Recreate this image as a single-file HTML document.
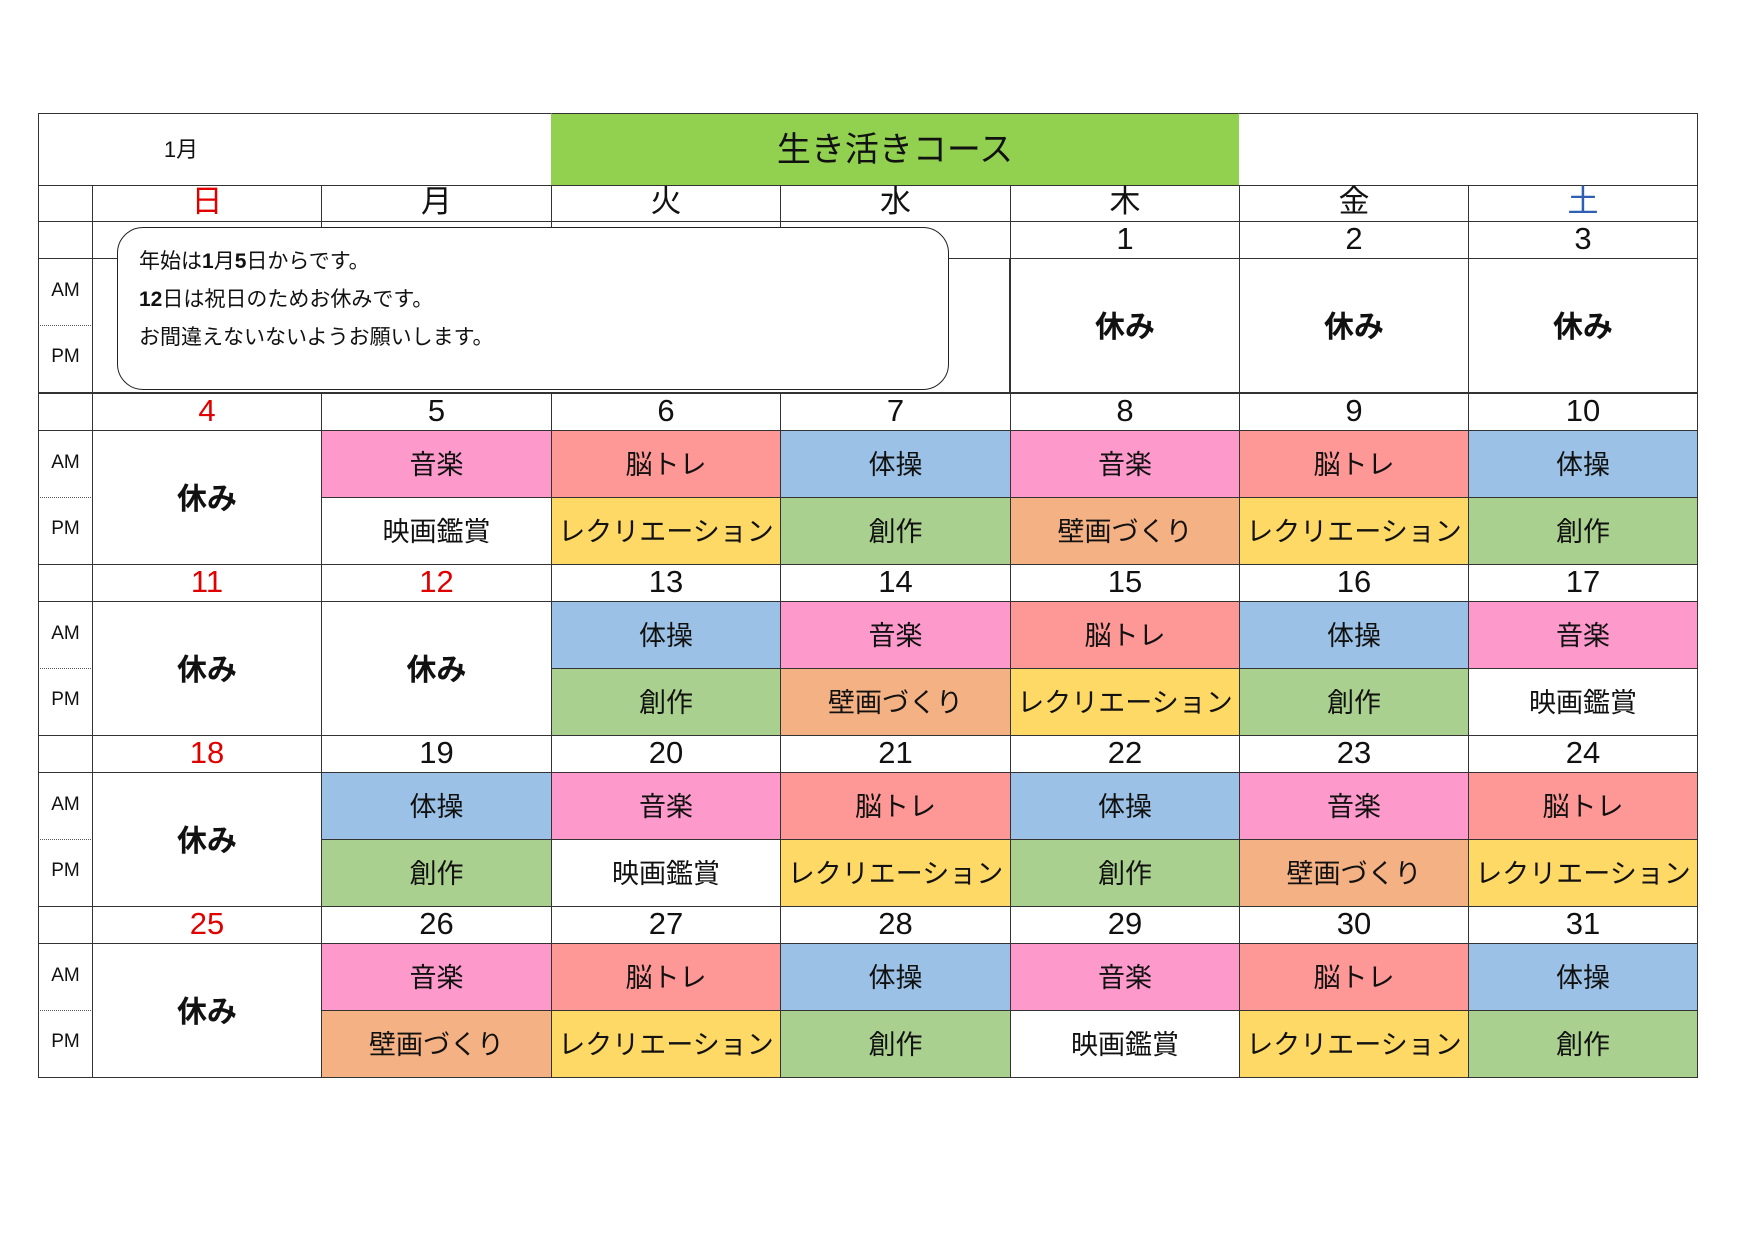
<!DOCTYPE html>
<html><head><meta charset="utf-8">
<style>
body{margin:0;background:#fff;}
#p{position:relative;width:1754px;height:1240px;overflow:hidden;font-family:"Liberation Sans","Noto Sans CJK JP",sans-serif;color:#111;}
.c{position:absolute;display:flex;align-items:center;justify-content:center;box-sizing:border-box;border:1.5px solid #333;white-space:nowrap;padding-bottom:4px;}
.d{font-size:31px;line-height:1;}
.a{font-size:27px;}
.r{color:#e00000;}
.k{font-weight:bold;font-size:30px;}
.l{font-size:19px;}
.pk{background:#fd99cb}.sa{background:#fe9896}.bl{background:#9bc2e6}.gr{background:#a9d08e}.ye{background:#ffd966}.or{background:#f4b183}
</style></head><body><div id="p">
<!-- header -->
<div class="c" style="left:38px;top:113px;width:1660px;height:73px;"></div>
<div style="position:absolute;left:150px;top:132px;width:62px;font-size:22px;text-align:center;">1月</div>
<div class="c" style="left:551px;top:113px;width:688px;height:73px;background:#92d050;font-size:34px;padding-bottom:6px;border-color:#92d050;border-top-color:#333;border-bottom-color:#333">生き活きコース</div>
<!-- day headers -->
<div class="c" style="left:38px;top:185px;width:55px;height:37px"></div>
<div class="c d r" style="left:92px;top:185px;width:230px;height:37px">日</div>
<div class="c d" style="left:321px;top:185px;width:231px;height:37px">月</div>
<div class="c d" style="left:551px;top:185px;width:230px;height:37px">火</div>
<div class="c d" style="left:780px;top:185px;width:231px;height:37px">水</div>
<div class="c d" style="left:1010px;top:185px;width:230px;height:37px">木</div>
<div class="c d" style="left:1239px;top:185px;width:230px;height:37px">金</div>
<div class="c d" style="left:1468px;top:185px;width:230px;height:37px;color:#2f5fb3">土</div>
<!-- week1 -->
<div class="c" style="left:38px;top:221px;width:55px;height:38px"></div>
<div class="c" style="left:92px;top:221px;width:230px;height:38px"></div>
<div class="c" style="left:321px;top:221px;width:231px;height:38px"></div>
<div class="c" style="left:551px;top:221px;width:230px;height:38px"></div>
<div class="c" style="left:780px;top:221px;width:231px;height:38px"></div>
<div class="c d" style="left:1010px;top:221px;width:230px;height:38px">1</div>
<div class="c d" style="left:1239px;top:221px;width:230px;height:38px">2</div>
<div class="c d" style="left:1468px;top:221px;width:230px;height:38px">3</div>
<div class="c l" style="left:38px;top:258px;width:55px;height:68px;border-bottom:none">AM</div>
<div class="c l" style="left:38px;top:325px;width:55px;height:68px;border-top:1.5px dotted #555">PM</div>
<div class="c" style="left:92px;top:258px;width:918px;height:135px"></div>
<div class="c k" style="left:1010px;top:258px;width:230px;height:135px">休み</div>
<div class="c k" style="left:1239px;top:258px;width:230px;height:135px">休み</div>
<div class="c k" style="left:1468px;top:258px;width:230px;height:135px">休み</div>
<div style="position:absolute;left:117px;top:227px;width:832px;height:163px;box-sizing:border-box;border:1.5px solid #222;border-radius:26px;background:#fff;padding:15px 0 0 21px;font-size:21px;line-height:38px;">年始は<b>1</b>月<b>5</b>日からです。<br><b>12</b>日は祝日のためお休みです。<br>お間違えないないようお願いします。</div>

<!-- week2 -->
<div class="c" style="left:38px;top:393px;width:55px;height:38px"></div>
<div class="c l" style="left:38px;top:430px;width:55px;height:68px;border-bottom:none">AM</div>
<div class="c l" style="left:38px;top:497px;width:55px;height:68px;border-top:1.5px dotted #555">PM</div>
<div class="c d r" style="left:92px;top:393px;width:230px;height:38px">4</div>
<div class="c d" style="left:321px;top:393px;width:231px;height:38px">5</div>
<div class="c d" style="left:551px;top:393px;width:230px;height:38px">6</div>
<div class="c d" style="left:780px;top:393px;width:231px;height:38px">7</div>
<div class="c d" style="left:1010px;top:393px;width:230px;height:38px">8</div>
<div class="c d" style="left:1239px;top:393px;width:230px;height:38px">9</div>
<div class="c d" style="left:1468px;top:393px;width:230px;height:38px">10</div>
<div class="c k" style="left:92px;top:430px;width:230px;height:135px">休み</div>
<div class="c a pk" style="left:321px;top:430px;width:231px;height:68px">音楽</div>
<div class="c a" style="left:321px;top:497px;width:231px;height:68px">映画鑑賞</div>
<div class="c a sa" style="left:551px;top:430px;width:230px;height:68px">脳トレ</div>
<div class="c a ye" style="left:551px;top:497px;width:230px;height:68px">レクリエーション</div>
<div class="c a bl" style="left:780px;top:430px;width:231px;height:68px">体操</div>
<div class="c a gr" style="left:780px;top:497px;width:231px;height:68px">創作</div>
<div class="c a pk" style="left:1010px;top:430px;width:230px;height:68px">音楽</div>
<div class="c a or" style="left:1010px;top:497px;width:230px;height:68px">壁画づくり</div>
<div class="c a sa" style="left:1239px;top:430px;width:230px;height:68px">脳トレ</div>
<div class="c a ye" style="left:1239px;top:497px;width:230px;height:68px">レクリエーション</div>
<div class="c a bl" style="left:1468px;top:430px;width:230px;height:68px">体操</div>
<div class="c a gr" style="left:1468px;top:497px;width:230px;height:68px">創作</div>

<!-- week3 -->
<div class="c" style="left:38px;top:564px;width:55px;height:38px"></div>
<div class="c l" style="left:38px;top:601px;width:55px;height:68px;border-bottom:none">AM</div>
<div class="c l" style="left:38px;top:668px;width:55px;height:68px;border-top:1.5px dotted #555">PM</div>
<div class="c d r" style="left:92px;top:564px;width:230px;height:38px">11</div>
<div class="c d r" style="left:321px;top:564px;width:231px;height:38px">12</div>
<div class="c d" style="left:551px;top:564px;width:230px;height:38px">13</div>
<div class="c d" style="left:780px;top:564px;width:231px;height:38px">14</div>
<div class="c d" style="left:1010px;top:564px;width:230px;height:38px">15</div>
<div class="c d" style="left:1239px;top:564px;width:230px;height:38px">16</div>
<div class="c d" style="left:1468px;top:564px;width:230px;height:38px">17</div>
<div class="c k" style="left:92px;top:601px;width:230px;height:135px">休み</div>
<div class="c k" style="left:321px;top:601px;width:231px;height:135px">休み</div>
<div class="c a bl" style="left:551px;top:601px;width:230px;height:68px">体操</div>
<div class="c a gr" style="left:551px;top:668px;width:230px;height:68px">創作</div>
<div class="c a pk" style="left:780px;top:601px;width:231px;height:68px">音楽</div>
<div class="c a or" style="left:780px;top:668px;width:231px;height:68px">壁画づくり</div>
<div class="c a sa" style="left:1010px;top:601px;width:230px;height:68px">脳トレ</div>
<div class="c a ye" style="left:1010px;top:668px;width:230px;height:68px">レクリエーション</div>
<div class="c a bl" style="left:1239px;top:601px;width:230px;height:68px">体操</div>
<div class="c a gr" style="left:1239px;top:668px;width:230px;height:68px">創作</div>
<div class="c a pk" style="left:1468px;top:601px;width:230px;height:68px">音楽</div>
<div class="c a" style="left:1468px;top:668px;width:230px;height:68px">映画鑑賞</div>

<!-- week4 -->
<div class="c" style="left:38px;top:735px;width:55px;height:38px"></div>
<div class="c l" style="left:38px;top:772px;width:55px;height:68px;border-bottom:none">AM</div>
<div class="c l" style="left:38px;top:839px;width:55px;height:68px;border-top:1.5px dotted #555">PM</div>
<div class="c d r" style="left:92px;top:735px;width:230px;height:38px">18</div>
<div class="c d" style="left:321px;top:735px;width:231px;height:38px">19</div>
<div class="c d" style="left:551px;top:735px;width:230px;height:38px">20</div>
<div class="c d" style="left:780px;top:735px;width:231px;height:38px">21</div>
<div class="c d" style="left:1010px;top:735px;width:230px;height:38px">22</div>
<div class="c d" style="left:1239px;top:735px;width:230px;height:38px">23</div>
<div class="c d" style="left:1468px;top:735px;width:230px;height:38px">24</div>
<div class="c k" style="left:92px;top:772px;width:230px;height:135px">休み</div>
<div class="c a bl" style="left:321px;top:772px;width:231px;height:68px">体操</div>
<div class="c a gr" style="left:321px;top:839px;width:231px;height:68px">創作</div>
<div class="c a pk" style="left:551px;top:772px;width:230px;height:68px">音楽</div>
<div class="c a" style="left:551px;top:839px;width:230px;height:68px">映画鑑賞</div>
<div class="c a sa" style="left:780px;top:772px;width:231px;height:68px">脳トレ</div>
<div class="c a ye" style="left:780px;top:839px;width:231px;height:68px">レクリエーション</div>
<div class="c a bl" style="left:1010px;top:772px;width:230px;height:68px">体操</div>
<div class="c a gr" style="left:1010px;top:839px;width:230px;height:68px">創作</div>
<div class="c a pk" style="left:1239px;top:772px;width:230px;height:68px">音楽</div>
<div class="c a or" style="left:1239px;top:839px;width:230px;height:68px">壁画づくり</div>
<div class="c a sa" style="left:1468px;top:772px;width:230px;height:68px">脳トレ</div>
<div class="c a ye" style="left:1468px;top:839px;width:230px;height:68px">レクリエーション</div>

<!-- week5 -->
<div class="c" style="left:38px;top:906px;width:55px;height:38px"></div>
<div class="c l" style="left:38px;top:943px;width:55px;height:68px;border-bottom:none">AM</div>
<div class="c l" style="left:38px;top:1010px;width:55px;height:68px;border-top:1.5px dotted #555">PM</div>
<div class="c d r" style="left:92px;top:906px;width:230px;height:38px">25</div>
<div class="c d" style="left:321px;top:906px;width:231px;height:38px">26</div>
<div class="c d" style="left:551px;top:906px;width:230px;height:38px">27</div>
<div class="c d" style="left:780px;top:906px;width:231px;height:38px">28</div>
<div class="c d" style="left:1010px;top:906px;width:230px;height:38px">29</div>
<div class="c d" style="left:1239px;top:906px;width:230px;height:38px">30</div>
<div class="c d" style="left:1468px;top:906px;width:230px;height:38px">31</div>
<div class="c k" style="left:92px;top:943px;width:230px;height:135px">休み</div>
<div class="c a pk" style="left:321px;top:943px;width:231px;height:68px">音楽</div>
<div class="c a or" style="left:321px;top:1010px;width:231px;height:68px">壁画づくり</div>
<div class="c a sa" style="left:551px;top:943px;width:230px;height:68px">脳トレ</div>
<div class="c a ye" style="left:551px;top:1010px;width:230px;height:68px">レクリエーション</div>
<div class="c a bl" style="left:780px;top:943px;width:231px;height:68px">体操</div>
<div class="c a gr" style="left:780px;top:1010px;width:231px;height:68px">創作</div>
<div class="c a pk" style="left:1010px;top:943px;width:230px;height:68px">音楽</div>
<div class="c a" style="left:1010px;top:1010px;width:230px;height:68px">映画鑑賞</div>
<div class="c a sa" style="left:1239px;top:943px;width:230px;height:68px">脳トレ</div>
<div class="c a ye" style="left:1239px;top:1010px;width:230px;height:68px">レクリエーション</div>
<div class="c a bl" style="left:1468px;top:943px;width:230px;height:68px">体操</div>
<div class="c a gr" style="left:1468px;top:1010px;width:230px;height:68px">創作</div>
</div></body></html>
